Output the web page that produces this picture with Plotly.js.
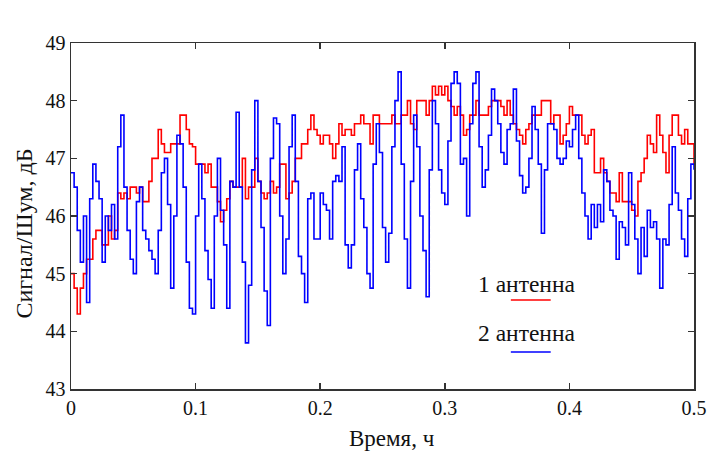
<!DOCTYPE html>
<html>
<head>
<meta charset="utf-8">
<script src="https://cdn.plot.ly/plotly-3.0.1.min.js"></script>
<style>html,body{margin:0;padding:0;background:#fff}#chart{width:712px;height:456px}</style>
</head>
<body>
<div id="chart"></div>
<script>
// sample step in hours
const dt = 0.0025;
// antenna 1 (red), dB
const antenna1 = [
 45.0,44.75,44.3,44.75,45.0,45.25,45.25,45.6,45.75,45.75,
 45.5,45.5,46.0,45.6,45.75,46.4,46.3,46.4,46.3,46.5,
 46.5,46.4,46.5,46.25,46.25,46.6,47.0,47.0,47.5,47.25,
 47.1,47.1,47.25,47.25,47.25,47.75,47.75,47.5,47.25,47.2,
 46.9,46.9,46.9,46.75,46.9,46.5,46.5,46.25,45.9,46.1,
 46.3,46.6,46.5,46.5,46.5,47.0,46.3,46.5,46.5,47.0,
 46.6,46.4,46.3,46.4,46.6,46.4,46.5,46.9,46.9,46.3,
 46.4,46.6,47.0,47.0,47.25,47.25,47.5,47.75,47.5,47.4,
 47.25,47.4,47.4,47.25,47.0,47.25,47.6,47.4,47.5,47.5,
 47.4,47.6,47.6,47.75,47.6,47.6,47.25,47.75,47.75,47.6,
 47.6,47.6,47.6,47.75,47.6,47.6,47.75,47.75,48.0,47.6,
 47.5,48.0,48.0,48.0,47.75,48.0,48.25,48.1,48.25,48.1,
 48.25,48.0,47.9,47.75,47.9,47.75,47.4,47.5,47.75,47.75,
 48.0,47.75,47.75,47.75,47.9,48.0,48.0,48.0,47.9,47.75,
 48.0,47.75,47.6,47.5,47.4,47.25,47.5,47.6,47.75,47.75,
 47.75,48.0,48.0,48.0,47.6,47.75,47.75,47.25,47.4,47.6,
 47.9,47.75,47.75,47.75,47.4,47.25,47.4,47.5,46.75,46.75,
 47.0,46.75,46.6,46.4,46.4,46.25,46.75,46.25,46.25,46.25,
 46.1,46.0,46.6,46.75,47.0,47.4,47.25,47.1,47.75,47.4,
 47.1,46.75,47.4,47.75,47.75,47.4,47.25,47.5,47.25,47.25,
 46.9
];
// antenna 2 (blue), dB
const antenna2 = [
 46.75,46.5,45.75,45.2,46.0,44.5,46.3,46.9,46.6,46.3,
 45.2,46.0,45.75,46.2,45.6,47.2,47.75,46.5,45.75,45.25,
 45.0,46.25,46.5,45.75,45.6,45.4,45.25,45.0,45.75,46.75,
 47.0,46.2,44.75,46.0,47.4,47.25,46.5,45.2,44.4,44.3,
 46.0,46.9,46.3,45.4,44.9,44.4,46.0,47.0,46.1,45.5,
 44.4,46.6,46.5,47.8,46.5,45.2,43.8,44.8,46.8,48.0,
 46.6,45.8,44.7,44.1,47.0,47.7,47.6,46.0,45.0,45.6,
 47.2,47.75,46.6,45.3,45.0,44.5,46.3,46.4,45.6,45.6,
 46.4,46.2,46.1,45.6,46.6,46.7,46.6,47.2,45.5,45.1,
 45.5,46.8,47.25,46.3,45.8,45.0,44.75,46.9,47.6,47.1,
 45.8,45.2,45.7,47.2,48.0,48.5,46.9,45.6,44.75,46.6,
 47.75,47.2,46.0,45.4,44.6,46.8,48.0,47.6,46.8,46.4,
 46.2,47.3,48.3,48.5,48.3,46.9,47.0,46.0,47.6,48.3,
 48.5,47.2,46.5,46.8,47.4,48.2,48.0,47.6,47.1,46.9,
 47.5,47.6,48.2,47.3,46.7,46.4,46.5,47.0,47.9,47.5,
 46.9,45.7,46.8,47.6,47.6,47.5,47.0,46.9,47.0,47.3,
 47.2,47.5,47.75,47.0,46.4,46.0,45.6,46.2,45.8,46.2,
 45.9,46.8,46.6,46.1,46.0,45.25,45.9,45.8,45.5,46.75,
 46.2,45.6,45.0,45.8,45.3,46.1,45.8,45.9,45.6,44.75,
 45.6,45.5,46.2,47.2,46.4,46.1,45.6,45.3,46.3,46.9,
 46.8
];
const legendNames = ['1 антенна', '2 антенна'];
const xTickVals = [0, 0.1, 0.2, 0.3, 0.4, 0.5];
const xTickText = ['0', '0.1', '0.2', '0.3', '0.4', '0.5'];
const yTickVals = [43, 44, 45, 46, 47, 48, 49];
const xTitle = 'Время, ч';
const yTitle = 'Сигнал/Шум, дБ';

const time = antenna1.map((_, i) => +(i * dt).toFixed(4));
const FONT = '"Liberation Serif", "Times New Roman", serif';
const TXT = '#111';

const traces = [
  {x: time, y: antenna1, type: 'scatter', mode: 'lines', line: {color: '#ff0000', width: 1.6, shape: 'hv'}, name: legendNames[0]},
  {x: time, y: antenna2, type: 'scatter', mode: 'lines', line: {color: '#0000ff', width: 1.6, shape: 'hv'}, name: legendNames[1]}
];

const axisCommon = {
  showgrid: false, zeroline: false, showline: true, linecolor: '#333', linewidth: 1.5,
  mirror: 'ticks', ticks: 'inside', ticklen: 6, tickwidth: 1.5, tickcolor: '#333',
  tickfont: {family: FONT, size: 20, color: TXT}
};

const layout = {
  width: 712, height: 456,
  margin: {l: 71, r: 18, t: 43, b: 67},
  paper_bgcolor: '#fff', plot_bgcolor: '#fff',
  font: {family: FONT},
  showlegend: false,
  xaxis: Object.assign({}, axisCommon, {range: [0, 0.5], tickvals: xTickVals, ticktext: xTickText}),
  yaxis: Object.assign({}, axisCommon, {range: [43, 49], tickvals: yTickVals}),
  annotations: [
    {xref: 'paper', yref: 'paper', x: 0.5145, y: -0.143, text: xTitle, showarrow: false,
     font: {family: FONT, size: 23, color: TXT}, xanchor: 'center', yanchor: 'middle'},
    {xref: 'paper', yref: 'paper', x: -0.075, y: 0.45, text: yTitle, showarrow: false, textangle: -90,
     font: {family: FONT, size: 24, color: TXT}, xanchor: 'center', yanchor: 'middle'},
    {xref: 'paper', yref: 'paper', x: 0.731, y: 0.303, text: legendNames[0], showarrow: false,
     font: {family: FONT, size: 23.5, color: TXT}, xanchor: 'center', yanchor: 'middle'},
    {xref: 'paper', yref: 'paper', x: 0.731, y: 0.162, text: legendNames[1], showarrow: false,
     font: {family: FONT, size: 23.5, color: TXT}, xanchor: 'center', yanchor: 'middle'}
  ],
  shapes: [
    {type: 'line', xref: 'paper', yref: 'paper', x0: 0.706, x1: 0.77, y0: 0.257, y1: 0.257, line: {color: '#ff0000', width: 1.5}},
    {type: 'line', xref: 'paper', yref: 'paper', x0: 0.706, x1: 0.77, y0: 0.107, y1: 0.107, line: {color: '#0000ff', width: 1.5}}
  ]
};

Plotly.newPlot('chart', traces, layout, {displayModeBar: false, staticPlot: true});
</script>
</body>
</html>
